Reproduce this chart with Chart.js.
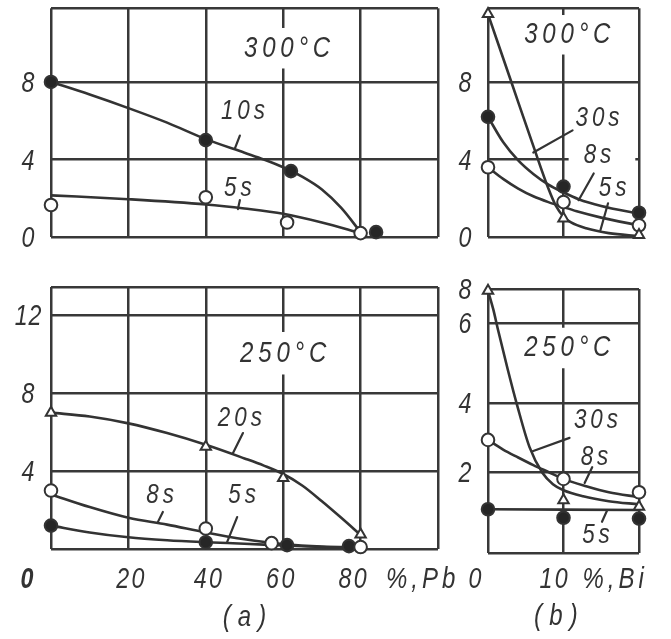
<!DOCTYPE html>
<html><head><meta charset="utf-8">
<script src="https://cdn.jsdelivr.net/npm/chart.js@4.4.1/dist/chart.umd.min.js"></script>
<style>
html,body{margin:0;padding:0;background:#fff;}
#wrap{position:relative;width:671px;height:639px;overflow:hidden;background:#fff;}
canvas{position:absolute;left:0;top:0;}
</style></head><body>
<div id="wrap">
<canvas id="cA300" width="671" height="639"></canvas>
<canvas id="cB300" width="671" height="639"></canvas>
<canvas id="cA250" width="671" height="639"></canvas>
<canvas id="cB250" width="671" height="639"></canvas>
</div>
<script>
// ================= DATA =================
// (a) x axis: % Pb ; (b) x axis: % Bi
const xTicksA = [0, 20, 40, 60, 80, 100];
const xTickLabelsA = ['0', '20', '40', '60', '80'];
const xTicksB = [0, 10, 20];
const xTickLabelsB = ['0', '10'];

// ---- (a) 300 °C
const yTicksA300 = [0, 4, 8];
const a300_10s_x = [0, 40, 62, 84];
const a300_10s_y = [8.0, 5.0, 3.4, 0.25];
const a300_5s_x = [0, 40, 61, 80];
const a300_5s_y = [1.65, 2.05, 0.75, 0.2];
const a300_fit10s_x = [0, 10, 20, 30, 40, 50, 55, 60, 65, 70, 75, 80];
const a300_fit10s_y = [8.0, 7.35, 6.65, 5.9, 5.05, 4.35, 4.0, 3.6, 3.1, 2.45, 1.5, 0.25];
const a300_fit5s_x = [0, 20, 40, 50, 60, 70, 80];
const a300_fit5s_y = [2.15, 1.95, 1.68, 1.47, 1.2, 0.75, 0.2];

// ---- (b) 300 °C
const yTicksB300 = [0, 4, 8];
const b300_30s_x = [0, 10, 20];
const b300_30s_y = [11.5, 0.95, 0.1];
const b300_8s_x = [0, 10, 20];
const b300_8s_y = [6.2, 2.6, 1.25];
const b300_5s_x = [0, 10, 20];
const b300_5s_y = [3.6, 1.8, 0.6];
const b300_fit30s_x = [0, 3, 6, 8, 9, 10, 11, 13, 16, 20];
const b300_fit30s_y = [11.5, 8.1, 4.7, 2.5, 1.6, 1.05, 0.75, 0.45, 0.2, 0.05];
const b300_fit8s_x = [0, 2, 4, 6, 8, 10, 12, 15, 20];
const b300_fit8s_y = [6.2, 4.9, 3.95, 3.25, 2.7, 2.3, 1.95, 1.6, 1.2];
const b300_fit5s_x = [0, 2, 4, 6, 8, 10, 12, 15, 20];
const b300_fit5s_y = [3.6, 3.0, 2.5, 2.1, 1.8, 1.55, 1.3, 1.0, 0.6];

// ---- (a) 250 °C
const yTicksA250 = [4, 8, 12];
const a250_20s_x = [0, 40, 60, 80];
const a250_20s_y = [7.0, 5.25, 3.65, 0.75];
const a250_8s_x = [0, 40, 57, 80];
const a250_8s_y = [3.0, 1.05, 0.3, 0.1];
const a250_5s_x = [0, 40, 61, 77];
const a250_5s_y = [1.2, 0.35, 0.2, 0.15];
const a250_fit20s_x = [0, 10, 20, 30, 40, 50, 55, 60, 65, 70, 75, 80];
const a250_fit20s_y = [7.0, 6.8, 6.45, 5.95, 5.35, 4.65, 4.28, 3.85, 3.25, 2.45, 1.6, 0.72];
const a250_fit8s_x = [0, 10, 20, 30, 40, 50, 60, 70, 80];
const a250_fit8s_y = [2.8, 2.15, 1.6, 1.25, 0.85, 0.5, 0.25, 0.12, 0.08];
const a250_fit5s_x = [0, 10, 20, 30, 40, 50, 60, 70, 80];
const a250_fit5s_y = [1.2, 0.85, 0.6, 0.45, 0.35, 0.27, 0.18, 0.1, 0.05];

// ---- (b) 250 °C
const yTicksB250 = [2, 4, 6, 8];
const b250_30s_x = [0, 10, 20];
const b250_30s_y = [7.9, 1.3, 1.14];
const b250_8s_x = [0, 10, 20];
const b250_8s_y = [2.93, 1.83, 1.5];
const b250_5s_x = [0, 10, 20];
const b250_5s_y = [1.08, 0.87, 0.85];
const b250_fit30s_x = [0, 0.7, 1.3, 2.6, 3.9, 5.5, 7.2, 8.6, 10, 12.6, 16, 20];
const b250_fit30s_y = [7.9, 6.8, 5.85, 4.85, 3.9, 2.72, 1.98, 1.7, 1.55, 1.4, 1.28, 1.2];
const b250_fit8s_x = [0, 2, 4, 6, 8, 10, 13, 16, 20];
const b250_fit8s_y = [2.93, 2.65, 2.42, 2.2, 2.0, 1.83, 1.65, 1.5, 1.38];
const b250_fit5s_x = [0, 20];
const b250_fit5s_y = [1.08, 1.06];

// ================= STYLE / HELPERS =================
const FONT = '"Liberation Sans",Arimo,"DejaVu Sans",sans-serif';
const INK = '#333';
const GRID = '#383838';
const SQUEEZE = 0.8;   // condensed hand lettering
const pts = (xs, ys) => xs.map((x, i) => ({x: x, y: ys[i]}));

// piecewise-linear value axis (the (b) 250 °C axis is drawn with uneven spacing)
class PiecewiseScale extends Chart.LinearScale {
  _frac(v) {
    const kv = this.options.knotValues, kf = this.options.knotFracs;
    if (v <= kv[0]) return kf[0] + (v - kv[0]) * (kf[1] - kf[0]) / (kv[1] - kv[0]);
    for (let i = 1; i < kv.length; i++) {
      if (v <= kv[i] || i === kv.length - 1) {
        return kf[i - 1] + (v - kv[i - 1]) * (kf[i] - kf[i - 1]) / (kv[i] - kv[i - 1]);
      }
    }
  }
  getPixelForValue(v) {
    if (v === null || v === undefined) return NaN;
    return this.bottom - this._frac(v) * (this.bottom - this.top);
  }
  getValueForPixel(p) {
    const f = (this.bottom - p) / (this.bottom - this.top);
    const kv = this.options.knotValues, kf = this.options.knotFracs;
    for (let i = 1; i < kv.length; i++) {
      if (f <= kf[i] || i === kv.length - 1) {
        return kv[i - 1] + (f - kf[i - 1]) * (kv[i] - kv[i - 1]) / (kf[i] - kf[i - 1]);
      }
    }
  }
}
PiecewiseScale.id = 'piecewise';
Chart.register(PiecewiseScale);

function curve(xs, ys) {
  return {data: pts(xs, ys), showLine: true, borderColor: INK, borderWidth: 2.6,
    pointRadius: 0, cubicInterpolationMode: 'monotone', clip: false, order: 1};
}
function marks(xs, ys, kind) {
  return {data: pts(xs, ys), showLine: false, clip: false, order: 0,
    pointStyle: kind === 'tri' ? 'triangle' : 'circle',
    pointRadius: kind === 'tri' ? 6 : 6.3,
    pointBackgroundColor: kind === 'filled' ? '#262626' : '#fff',
    pointBorderColor: INK, pointBorderWidth: 2};
}

function annotate(spec) {
  return {
    id: 'annotate',
    afterDatasetsDraw(chart) {
      const ctx = chart.ctx;
      const xs = chart.scales.x, ys = chart.scales.y;
      const px = v => xs.getPixelForValue(v), py = v => ys.getPixelForValue(v);
      ctx.save();
      ctx.textBaseline = 'middle';
      const setFont = (t) => {
        ctx.font = (t.bold ? 'italic bold ' : 'italic ') + (t.size || 28) + 'px ' + FONT;
        ctx.letterSpacing = (t.ls === undefined ? 5 : t.ls) + 'px';
      };
      const textWidth = (t) => {
        setFont(t);
        const ls = (t.ls === undefined ? 5 : t.ls);
        return (ctx.measureText(t.text).width - ls) * SQUEEZE;
      };
      const draw = (t, x, y, align) => {
        setFont(t);
        const w = textWidth(t);
        let x0 = x - w / 2;
        if (align === 'left') x0 = x;
        ctx.save();
        ctx.translate(x0, y);
        ctx.scale(SQUEEZE, 1);
        ctx.textAlign = 'left';
        ctx.fillText(t.text, 0, 0);
        ctx.restore();
      };
      // white masks behind labels (breaks in grid lines)
      (spec.texts || []).forEach(t => {
        if (!t.mask) return;
        const w = textWidth(t), h = (t.size || 28) * 0.75;
        const x = px(t.x), y = py(t.y);
        ctx.fillStyle = '#fff';
        ctx.fillRect(x - w / 2 - t.mask[0], y - h / 2 - t.mask[2], w + t.mask[0] + t.mask[1], h + t.mask[2] + t.mask[3]);
      });
      // leader lines
      ctx.strokeStyle = INK; ctx.lineWidth = 2.2; ctx.lineCap = 'round';
      (spec.leaders || []).forEach(l => {
        ctx.beginPath();
        ctx.moveTo(px(l[0]), py(l[1]));
        ctx.lineTo(px(l[2]), py(l[3]));
        ctx.stroke();
      });
      ctx.fillStyle = INK;
      // texts in data space
      (spec.texts || []).forEach(t => draw(t, px(t.x), py(t.y)));
      // y tick labels
      if (spec.yTicks) {
        spec.yTicks.forEach(v => draw({text: String(v), size: 29, ls: 1}, xs.left - 23, py(v) + 2));
      }
      // x tick labels
      if (spec.xTicks) {
        spec.xTicks.forEach((lab, i) => {
          draw({text: lab, size: 29, ls: 3, bold: spec.xBold && spec.xBold[i]},
               px(spec.xTickVals[i]) + spec.xNudge[i], ys.bottom + spec.xDy);
        });
      }
      // axis titles / panel captions
      (spec.captions || []).forEach(c => draw(c, px(c.x), ys.bottom + c.dy, c.align));
      ctx.restore();
    }
  };
}

function scales(xmin, xmax, xt, ymin, ymax, yt, ytype, extraY) {
  const grid = {color: GRID, lineWidth: 2.5, drawTicks: false};
  const y = Object.assign({type: ytype || 'linear', min: ymin, max: ymax,
    grid: grid, border: {display: false}, ticks: {display: false},
    afterBuildTicks: s => { s.ticks = yt.map(v => ({value: v})); }}, extraY || {});
  return {
    x: {type: 'linear', min: xmin, max: xmax, grid: grid, border: {display: false},
        ticks: {display: false}, afterBuildTicks: s => { s.ticks = xt.map(v => ({value: v})); }},
    y: y
  };
}

function make(id, padding, datasets, sc, ann) {
  new Chart(document.getElementById(id), {
    type: 'scatter',
    data: {datasets: datasets},
    options: {
      responsive: false, animation: false, devicePixelRatio: 1, events: [],
      layout: {padding: padding},
      plugins: {legend: {display: false}, tooltip: {enabled: false}},
      scales: sc
    },
    plugins: [annotate(ann)]
  });
}

// ================= CHARTS =================
// (a) 300 °C
make('cA300', {left: 51, top: 7, right: 233, bottom: 402}, [
  marks(a300_10s_x, a300_10s_y, 'filled'),
  marks(a300_5s_x, a300_5s_y, 'open'),
  curve(a300_fit10s_x, a300_fit10s_y),
  curve(a300_fit5s_x, a300_fit5s_y)
], scales(0, 100, xTicksA, 0, 11.8, [0, 4, 8, 11.8]), {
  texts: [
    {text: '300°C', x: 61, y: 9.74, size: 30, ls: 6, mask: [2, 2, 9, 9]},
    {text: '10s', x: 49.6, y: 6.5},
    {text: '5s', x: 48.3, y: 2.5}
  ],
  leaders: [[48.8, 5.23, 47.5, 4.56], [48.8, 1.9, 48.3, 1.44]],
  yTicks: yTicksA300
});

// (b) 300 °C
make('cB300', {left: 488, top: 7, right: 32, bottom: 402}, [
  marks(b300_30s_x, b300_30s_y, 'tri'),
  marks(b300_8s_x, b300_8s_y, 'filled'),
  marks(b300_5s_x, b300_5s_y, 'open'),
  curve(b300_fit30s_x, b300_fit30s_y),
  curve(b300_fit8s_x, b300_fit8s_y),
  curve(b300_fit5s_x, b300_fit5s_y)
], scales(0, 20, xTicksB, 0, 11.8, [0, 4, 8, 11.8]), {
  texts: [
    {text: '300°C', x: 10.5, y: 10.46, size: 30, ls: 6, mask: [2, 2, 8, 9]},
    {text: '30s', x: 14.5, y: 6.15},
    {text: '8s', x: 14.5, y: 4.2, mask: [15, 24, 3, 3]},
    {text: '5s', x: 16.5, y: 2.5}
  ],
  leaders: [[11.2, 5.5, 6.0, 4.36], [14.0, 3.28, 12.0, 1.9], [15.9, 1.74, 14.9, 0.36]],
  yTicks: yTicksB300
});

// (a) 250 °C
make('cA250', {left: 51, top: 287, right: 233, bottom: 90}, [
  marks(a250_20s_x, a250_20s_y, 'tri'),
  marks(a250_8s_x, a250_8s_y, 'open'),
  marks(a250_5s_x, a250_5s_y, 'filled'),
  curve(a250_fit20s_x, a250_fit20s_y),
  curve(a250_fit8s_x, a250_fit8s_y),
  curve(a250_fit5s_x, a250_fit5s_y)
], scales(0, 100, xTicksA, 0, 13.45, [0, 4, 8, 12, 13.45]), {
  texts: [
    {text: '250°C', x: 60, y: 10.05, size: 30, ls: 6, mask: [2, 2, 10, 10]},
    {text: '20s', x: 48.8, y: 6.72},
    {text: '8s', x: 28.2, y: 2.77},
    {text: '5s', x: 49.4, y: 2.77}
  ],
  leaders: [[49.6, 5.95, 47.0, 4.92], [28.9, 1.9, 27.6, 1.38], [48.1, 1.64, 45.5, 0.35]],
  yTicks: yTicksA250,
  xTicks: xTickLabelsA, xTickVals: xTicksA, xNudge: [-24, 2, 2, -3, -8], xBold: [true], xDy: 31,
  captions: [
    {text: '%,Pb', x: 95.5, dy: 31, size: 30, ls: 5},
    {text: '(a)', x: 50, dy: 69, size: 30, ls: 9}
  ]
});

// (b) 250 °C
make('cB250', {left: 488, top: 289, right: 32, bottom: 86}, [
  marks(b250_30s_x, b250_30s_y, 'tri'),
  marks(b250_8s_x, b250_8s_y, 'open'),
  marks(b250_5s_x, b250_5s_y, 'filled'),
  curve(b250_fit30s_x, b250_fit30s_y),
  curve(b250_fit8s_x, b250_fit8s_y),
  curve(b250_fit5s_x, b250_fit5s_y)
], scales(0, 20, xTicksB, 0, 8, [0, 2, 4, 6, 8], 'piecewise',
  {knotValues: [0, 2, 4, 6, 8], knotFracs: [0, 0.3068, 0.5682, 0.8712, 1]}), {
  texts: [
    {text: '250°C', x: 10.5, y: 5.375, size: 30, ls: 6, mask: [2, 2, 9, 9]},
    {text: '30s', x: 14.3, y: 3.5},
    {text: '8s', x: 14.1, y: 2.43},
    {text: '5s', x: 14.3, y: 0.44}
  ],
  leaders: [[10.8, 2.99, 5.9, 2.6], [13.8, 2.14, 12.8, 1.73], [15.8, 1.06, 15.1, 0.77]],
  yTicks: yTicksB250,
  xTicks: xTickLabelsB, xTickVals: xTicksB, xNudge: [-13, -10], xDy: 27,
  captions: [
    {text: '%,Bi', x: 12.5, dy: 27, size: 30, ls: 5, align: 'left'},
    {text: '(b)', x: 9, dy: 64, size: 30, ls: 9}
  ]
});
</script>
</body></html>
